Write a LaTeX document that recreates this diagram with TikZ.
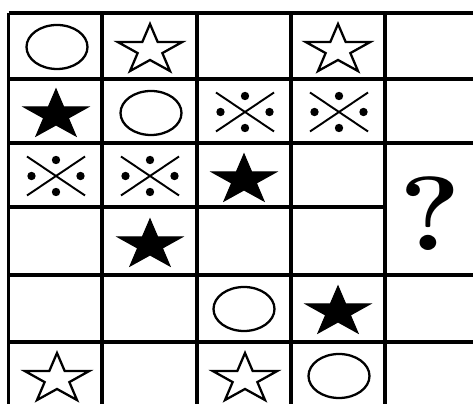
\documentclass[tikz,border=0pt]{standalone}
\usetikzlibrary{positioning}
\definecolor{trait}{gray}{0.0}

% motifs des cases (x, y, style)
\newcommand{\etoile}[3]{%
  \draw[#3, shift={(#1,#2)}]
    (-90:34 and 26) -- (-54:13 and 10) -- (-18:34 and 26) -- (18:13 and 10)
    -- (54:34 and 26) -- (90:13 and 10) -- (126:34 and 26) -- (162:13 and 10)
    -- (198:34 and 26) -- (234:13 and 10) -- cycle;}
\newcommand{\rond}[2]{%
  \draw[motif] (#1,#2) ellipse [x radius=30.5, y radius=22];}
\newcommand{\croix}[2]{%
  \begin{scope}[shift={(#1,#2)}]
    \draw[motif, line width=1.1pt] (-29,-19.5) -- (29,19.5) (-29,19.5) -- (29,-19.5);
    \fill[trait] (0,-16) circle[radius=4.2] (0,16) circle[radius=4.2]
                 (-24.5,0) circle[radius=4.2] (24.5,0) circle[radius=4.2];
  \end{scope}}

\begin{document}
\begin{tikzpicture}[x=0.02cm, y=-0.02cm,
    grille/.style={line width=1.8pt, draw=trait},
    motif/.style={line width=1.3pt, draw=trait},
    vide/.style={motif, fill=white},
    plein/.style={line width=0.6pt, draw=trait, fill=trait}]
  \useasboundingbox (0,0) rectangle (473,404);
  \clip (0,0) rectangle (473,404);

  % grille : lignes horizontales puis verticales
  \draw[grille] (8.5,13) -- (480,13)  (8.5,79) -- (480,79)
                (8.5,143) -- (480,143) (8.5,207) -- (385,207)
                (8.5,275) -- (480,275) (8.5,342) -- (480,342);
  \draw[grille] (8.5,13) -- (8.5,410)  (102,13) -- (102,410)
                (197,13) -- (197,410)  (291,13) -- (291,410)
                (385,13) -- (385,410);

  % ligne 1
  \rond{57}{47}
  \etoile{150}{50}{vide}
  \etoile{338}{50}{vide}
  % ligne 2
  \etoile{56}{115}{plein}
  \rond{151}{113}
  \croix{245}{112}
  \croix{339}{112}
  % ligne 3
  \croix{56}{176}
  \croix{150}{176}
  \etoile{244}{180}{plein}
  % ligne 4
  \etoile{150}{245}{plein}
  % ligne 5
  \rond{244}{309}
  \etoile{338}{312}{plein}
  % ligne 6
  \etoile{57}{379}{vide}
  \etoile{245}{379}{vide}
  \rond{339}{376}

  % case de la question
  \node[inner sep=0pt, xscale=1.1, transform shape,
        font=\bfseries\fontsize{60}{62}\selectfont] (question) at (430,214) {?};
\end{tikzpicture}
\end{document}
